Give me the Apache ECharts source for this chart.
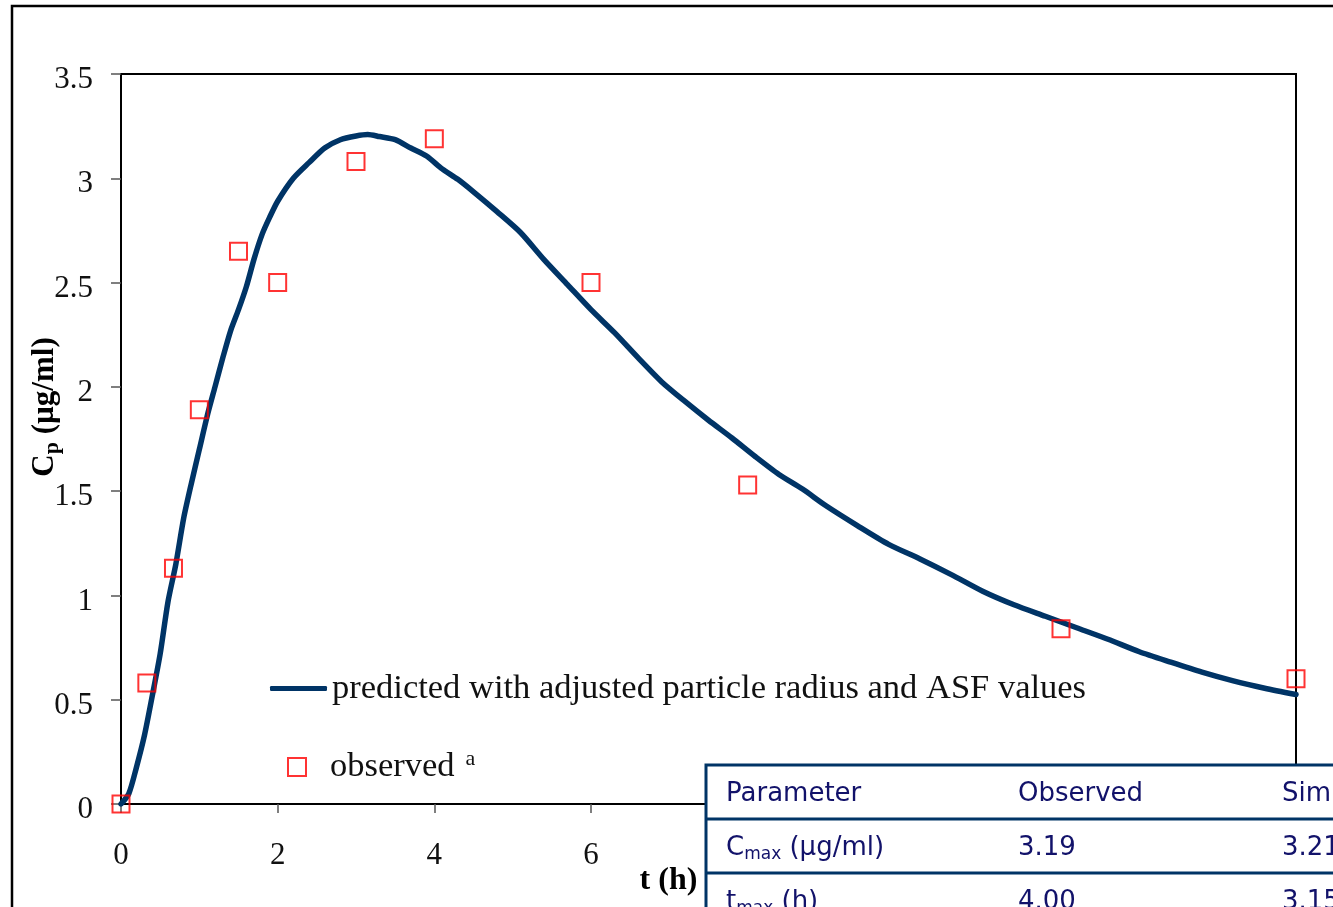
<!DOCTYPE html>
<html>
<head>
<meta charset="utf-8">
<title>Plasma concentration profile</title>
<script src="https://cdn.jsdelivr.net/npm/echarts@6/dist/echarts.min.js"></script>
<style>
  html, body { margin: 0; padding: 0; background: #fff; }
  #chart { width: 1333px; height: 907px; }
</style>
</head>
<body>
<div id="chart"></div>
<script>
// Simulated plasma concentration (µg/ml) over time (h)
const predTime = [0, 0.1, 0.2, 0.3, 0.4, 0.5, 0.6, 0.7, 0.8, 0.9, 1.0, 1.1, 1.2, 1.3, 1.4, 1.5, 1.6, 1.7, 1.8, 1.9,
  2.0, 2.2, 2.4, 2.6, 2.8, 3.0, 3.15, 3.3, 3.5, 3.7, 3.9, 4.1, 4.3, 4.5, 4.8, 5.1, 5.4, 5.7, 6.0, 6.3, 6.6, 6.9,
  7.2, 7.5, 7.8, 8.1, 8.4, 8.7, 9.0, 9.4, 9.8, 10.2, 10.6, 11.0, 11.4, 11.8, 12.2, 12.6, 13.0, 13.4, 13.8, 14.2, 14.6, 15.0];
const predConc = [0, 0.05, 0.18, 0.33, 0.52, 0.72, 0.97, 1.15, 1.37, 1.54, 1.70, 1.86, 2.0, 2.14, 2.27, 2.37, 2.48, 2.615, 2.73, 2.815,
  2.89, 3.0, 3.075, 3.145, 3.185, 3.203, 3.21, 3.2, 3.185, 3.145, 3.107, 3.045, 2.995, 2.935, 2.84, 2.74, 2.61, 2.49, 2.37, 2.26, 2.14, 2.025,
  1.93, 1.84, 1.755, 1.665, 1.58, 1.51, 1.43, 1.335, 1.245, 1.175, 1.10, 1.02, 0.955, 0.9, 0.845, 0.79, 0.73, 0.68, 0.632, 0.59, 0.555, 0.525];

// Observed plasma concentrations
const obsTime = [0, 0.33, 0.67, 1, 1.5, 2, 3, 4, 6, 8, 12, 15];
const obsConc = [0, 0.58, 1.13, 1.89, 2.65, 2.5, 3.08, 3.19, 2.5, 1.53, 0.84, 0.6];

// Series names
const predName = 'predicted with adjusted particle radius and ASF values';
const obsName = 'observed';

// Summary table
const tableHeader = ['Parameter', 'Observed', 'Simulated'];
const tableRows = [
  ['{c|C}{s|max}{c| (µg/ml)}', '3.19', '3.21'],
  ['{c|t}{s|max}{c| (h)}', '4.00', '3.15']
];

const serif = "'Liberation Serif', 'Times New Roman', serif";
const navy = '#003466';
const tableText = '#12126a';

const chart = echarts.init(document.getElementById('chart'), null, { renderer: 'canvas' });

// Table geometry
const tblLeft = 706, tblTop = 765, rowH = 54;
const colX = [726, 1018, 1282];
const tableElems = [];
tableElems.push({
  type: 'rect', shape: { x: tblLeft, y: tblTop, width: 800, height: 300 },
  style: { fill: '#fff', stroke: navy, lineWidth: 3 }, z: 100
});
for (let r = 1; r <= tableRows.length; r++) {
  tableElems.push({
    type: 'line', shape: { x1: tblLeft, y1: tblTop + r * rowH, x2: 1400, y2: tblTop + r * rowH },
    style: { stroke: navy, lineWidth: 3 }, z: 101
  });
}
const allRows = [tableHeader.slice()].concat(tableRows);
allRows.forEach((row, r) => {
  row.forEach((cell, c) => {
    tableElems.push({
      type: 'text', x: colX[c], y: tblTop + r * rowH + rowH / 2 + 2, z: 102,
      style: {
        text: cell, fill: tableText, font: "26px 'DejaVu Sans', sans-serif",
        verticalAlign: 'middle', align: 'left',
        rich: {
          c: { fontSize: 26, fontFamily: 'DejaVu Sans', fill: tableText, lineHeight: 30 },
          s: { fontSize: 17, fontFamily: 'DejaVu Sans', fill: tableText, lineHeight: 8, verticalAlign: 'bottom' }
        }
      }
    });
  });
});

const option = {
  animation: false,
  backgroundColor: '#fff',
  grid: {
    left: 121, top: 74, right: 37, bottom: 103,
    outerBoundsMode: 'none', containLabel: false,
    show: true, borderColor: '#000', borderWidth: 2, backgroundColor: 'transparent'
  },
  xAxis: {
    type: 'value', min: 0, max: 15, interval: 2,
    name: 't (h)', nameLocation: 'middle', nameGap: 61, nameMoveOverlap: false,
    nameTextStyle: { fontFamily: serif, fontWeight: 'bold', fontSize: 32, color: '#000', padding: [0, 80, 0, 0] },
    axisLine: { show: true, onZero: false, lineStyle: { color: '#000', width: 2 } },
    axisTick: { show: true, inside: false, length: 9, lineStyle: { color: '#555', width: 1.5 } },
    axisLabel: { margin: 36, fontFamily: serif, fontSize: 31, color: '#111' },
    splitLine: { show: false }
  },
  yAxis: {
    type: 'value', min: 0, max: 3.5, interval: 0.5,
    name: '{c|C}{p|p}{c| (µg/ml)}', nameLocation: 'middle', nameRotate: 90, nameGap: 58, nameMoveOverlap: false,
    nameTextStyle: {
      fontFamily: serif, fontWeight: 'bold', fontSize: 31, color: '#000',
      padding: [0, 0, 0, 64],
      rich: {
        c: { fontFamily: serif, fontWeight: 'bold', fontSize: 31, color: '#000', lineHeight: 36 },
        p: { fontFamily: serif, fontWeight: 'bold', fontSize: 22, color: '#000', lineHeight: 6, verticalAlign: 'bottom' }
      }
    },
    axisLine: { show: true, lineStyle: { color: '#000', width: 2 } },
    axisTick: { show: true, inside: false, length: 10, lineStyle: { color: '#555', width: 1.5 } },
    axisLabel: { margin: 28, fontFamily: serif, fontSize: 31, color: '#111', verticalAlign: 'top', lineHeight: 12 },
    splitLine: { show: false }
  },
  legend: [
    {
      data: [{ name: predName, icon: 'roundRect' }],
      left: 270, top: 671, padding: 0, selectedMode: false,
      itemWidth: 57, itemHeight: 5,
      itemStyle: { color: navy },
      textStyle: { fontFamily: serif, fontSize: 34.5, color: '#111' }
    },
    {
      data: [{ name: obsName, icon: 'rect', itemStyle: { color: 'rgba(0,0,0,0)', borderColor: '#ff0000', borderWidth: 2 } }],
      left: 287, top: 748, padding: 0, selectedMode: false,
      itemWidth: 18, itemHeight: 18,
      formatter: name => '{n|' + name + '}{a|  a}',
      textStyle: {
        fontFamily: serif, fontSize: 34.5, color: '#111',
        rich: {
          n: { fontFamily: serif, fontSize: 34.5, color: '#111', padding: [0, 0, 0, 19], lineHeight: 38 },
          a: { fontFamily: serif, fontSize: 22, color: '#111', lineHeight: 16, verticalAlign: 'top' }
        }
      }
    }
  ],
  series: [
    {
      name: predName, type: 'line',
      data: predTime.map((t, i) => [t, predConc[i]]),
      symbol: 'none', smooth: 0.25,
      lineStyle: { color: navy, width: 5.5, cap: 'round', join: 'round' },
      itemStyle: { color: navy },
      z: 2
    },
    {
      name: obsName, type: 'scatter',
      data: obsTime.map((t, i) => [t, obsConc[i]]),
      symbol: 'rect', symbolSize: 17,
      itemStyle: { color: 'rgba(0,0,0,0)', borderColor: '#ff0000', borderWidth: 2 },
      z: 3
    }
  ],
  graphic: [
    {
      type: 'rect', shape: { x: 12, y: 6, width: 1500, height: 1100 },
      style: { fill: 'none', stroke: '#000', lineWidth: 2.5 }, z: -1, silent: true
    },
    { type: 'group', children: tableElems, z: 100 }
  ]
};

chart.setOption(option);
</script>
</body>
</html>
